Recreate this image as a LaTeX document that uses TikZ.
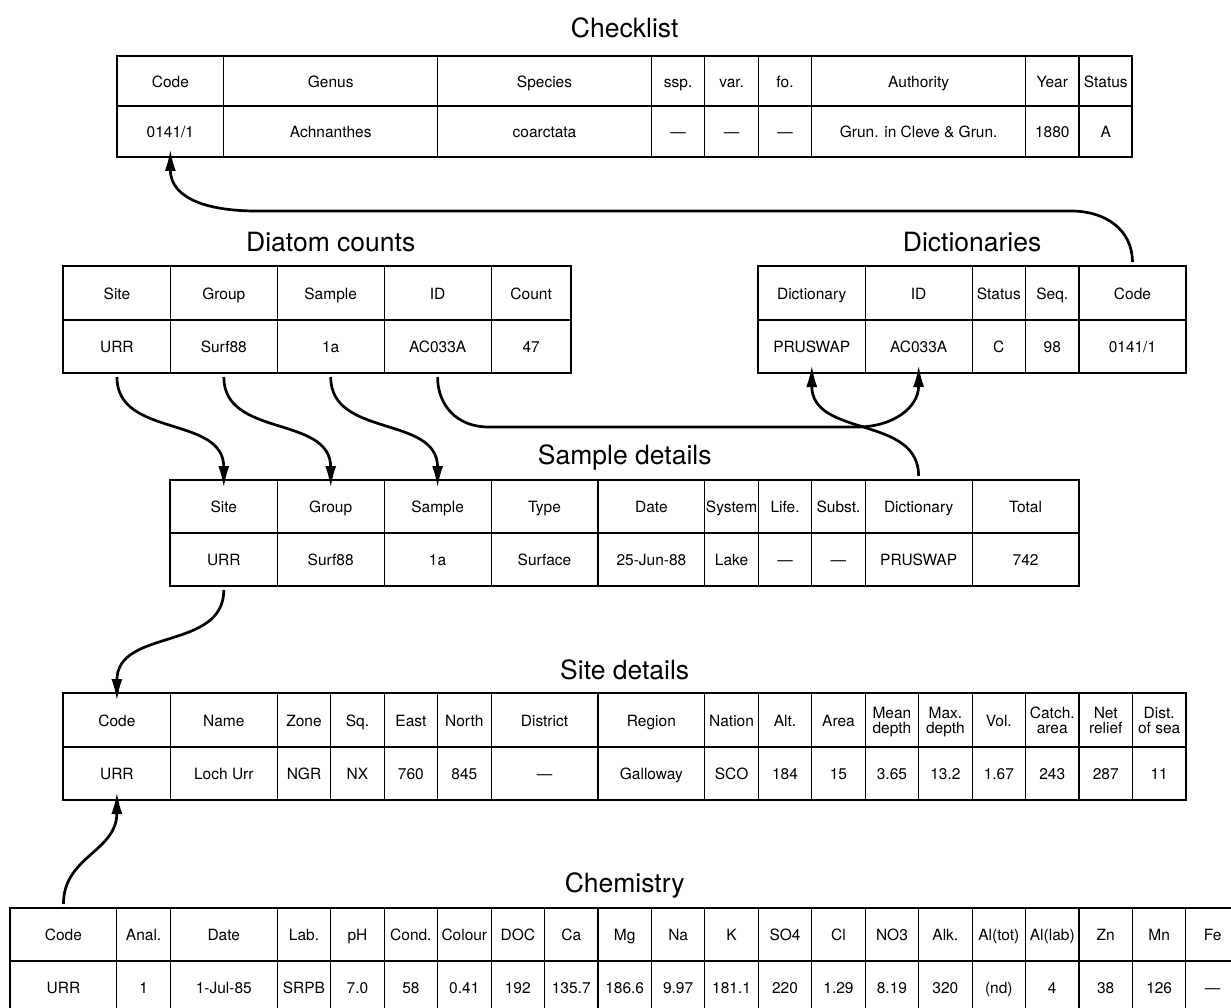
\documentclass[tikz,border=0pt]{standalone}
\usepackage{fontspec}
\setmainfont{TeX Gyre Heros}
\usetikzlibrary{arrows.meta}

\newcommand{\topstrut}{\rule{0pt}{17pt}}
\newcommand{\botstrut}{\rule[-4.5pt]{0pt}{4.5pt}}
\tikzset{
  cellbox/.style={draw, line width=1.1pt, inner sep=0pt, outer sep=0pt, align=center, font=\fontsize{15.5}{15}\selectfont},
  tableframe/.style={line width=2pt},
  headline/.style={font=\fontsize{26.5}{30}\selectfont},
  linkarrow/.style={line width=2.7pt, -{Latex[length=22pt,width=11pt]}, shorten <=4pt, shorten >=-8pt, looseness=1.1}
}

\newcommand{\dbtable}[7]{
  \foreach \xl/\xr/\hd/\vl [count=\idx] in {#7}{
    \node[cellbox, minimum width={(\xr-\xl)*53.45pt}, minimum height={(#5-#4)*1pt}] (#1h\idx) at ({(\xl+\xr)/2},{(#4+#5)/2}) {\topstrut\hd\botstrut};
    \node[cellbox, minimum width={(\xr-\xl)*53.45pt}, minimum height={(#6-#5)*1pt}] (#1v\idx) at ({(\xl+\xr)/2},{(#5+#6)/2}) {\topstrut\vl\botstrut};
  }
  \draw[tableframe] (#2,#4) rectangle (#3,#6);
}

\begin{document}
\begin{tikzpicture}[x=53.45pt, y=-1pt]
\useasboundingbox (-0.1871,0) rectangle (22.8437,1008);
\clip (-0.1871,0) rectangle (22.8437,1008);

\node[headline] (checklist) at (11.5,28) {Checklist};
\node[headline] (counts) at (6,242) {Diatom counts};
\node[headline] (dicts) at (18,242) {Dictionaries};
\node[headline] (samples) at (11.5,457) {Sample details};
\node[headline] (sites) at (11.5,670) {Site details};
\node[headline] (chem) at (11.5,885) {Chemistry};

\dbtable{ck}{2}{21}{56}{106}{157}{2/4/Code/{0141/1}, 4/8/Genus/Achnanthes, 8/12/Species/coarctata, 12/13/ssp./—, 13/14/var./—, 14/15/fo./—, 15/19/Authority/Grun. in Cleve \& Grun., 19/20/Year/1880, 20/21/Status/A}
\dbtable{dc}{1}{10.5}{266}{320}{373}{1/3/Site/URR, 3/5/Group/Surf88, 5/7/Sample/1a, 7/9/ID/AC033A, 9/10.5/Count/47}
\dbtable{dk}{14}{22}{266}{320}{373}{14/16/Dictionary/PRUSWAP, 16/18/ID/AC033A, 18/19/Status/C, 19/20/Seq./98, 20/22/Code/{0141/1}}
\dbtable{sd}{3}{20}{480}{533}{586}{3/5/Site/URR, 5/7/Group/Surf88, 7/9/Sample/1a, 9/11/Type/Surface, 11/13/Date/25-Jun-88, 13/14/System/Lake, 14/15/Life./—, 15/16/Subst./—, 16/18/Dictionary/PRUSWAP, 18/20/Total/742}
\dbtable{st}{1}{22}{693}{747}{800}{1/3/Code/URR, 3/5/Name/Loch Urr, 5/6/Zone/NGR, 6/7/Sq./NX, 7/8/East/760, 8/9/North/845, 9/11/District/—, 11/13/Region/Galloway, 13/14/Nation/SCO, 14/15/Alt./184, 15/16/Area/15, 16/17/Mean\\depth/3.65, 17/18/Max.\\depth/13.2, 18/19/Vol./1.67, 19/20/Catch.\\area/243, 20/21/Net\\relief/287, 21/22/Dist.\\of sea/11}
\dbtable{ch}{0}{23}{908}{961}{1014}{0/2/Code/URR, 2/3/Anal./1, 3/5/Date/1-Jul-85, 5/6/Lab./SRPB, 6/7/pH/7.0, 7/8/Cond./58, 8/9/Colour/0.41, 9/10/DOC/192, 10/11/Ca/135.7, 11/12/Mg/186.6, 12/13/Na/9.97, 13/14/K/181.1, 14/15/SO4/220, 15/16/Cl/1.29, 16/17/NO3/8.19, 17/18/Alk./320, 18/19/Al(tot)/(nd), 19/20/Al(lab)/4, 20/21/Zn/38, 21/22/Mn/126, 22/23/Fe/—}

\draw[linkarrow] (dkh5.north) to[out=90,in=0] (19.85,211) -- (4.6,211) to[out=180,in=-90] (ckv1.south);
\draw[linkarrow] (dcv1.south) to[out=-90,in=90] (sdh1.north);
\draw[linkarrow] (dcv2.south) to[out=-90,in=90] (sdh2.north);
\draw[linkarrow] (dcv3.south) to[out=-90,in=90] (sdh3.north);
\draw[linkarrow] (dcv4.south) to[out=-90,in=180] (8.95,427) -- (15.85,427) to[out=0,in=-90] (dkv2.south);
\draw[linkarrow] (sdh9.north) to[out=90,in=-90] (dkv1.south);
\draw[linkarrow] (sdv1.south) to[out=-90,in=90] (sth1.north);
\draw[linkarrow] (chh1.north) to[out=90,in=-90] (stv1.south);
\end{tikzpicture}
\end{document}
